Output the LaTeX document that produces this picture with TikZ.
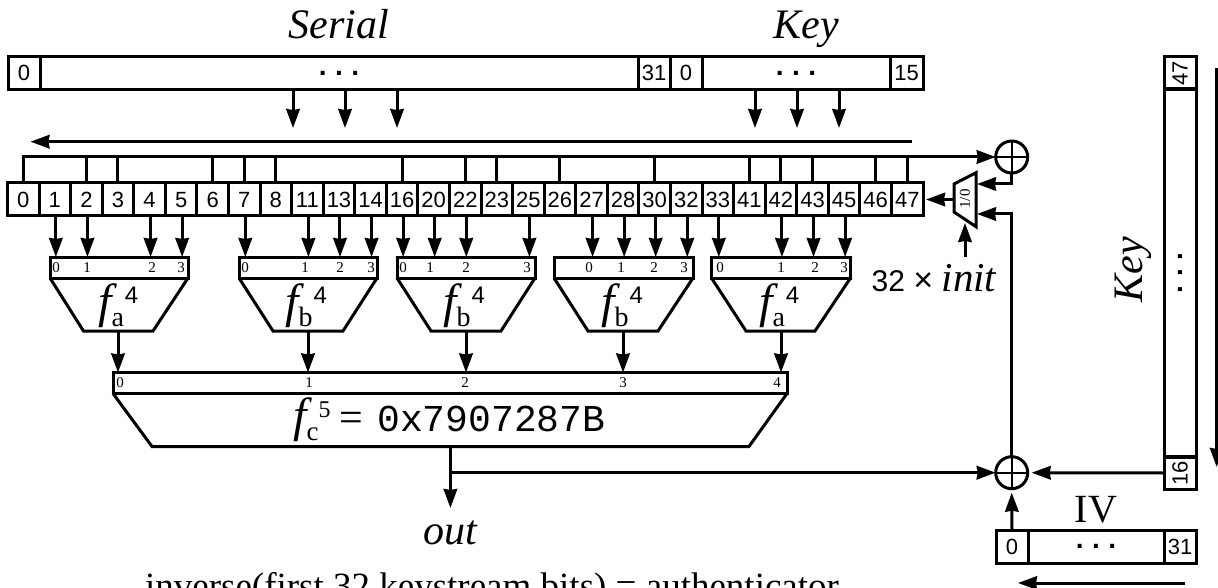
\documentclass[tikz,border=0pt]{standalone}
\usepackage{fontspec}
\usepackage{graphicx}
\setmainfont{Liberation Serif}
\setsansfont{Liberation Sans}
\setmonofont{Liberation Mono}
\usetikzlibrary{arrows.meta}
\newcommand{\fs}[1]{\fontsize{#1}{#1}\selectfont}
\newcommand{\fnt}[2]{\hbox{{\fs{48}\itshape f}\kern0pt\raisebox{-9pt}{\fs{28}#1}\kern1pt\raisebox{14pt}{\fs{24}\sffamily #2}}}
\newcommand{\hdots}{\fs{28}\sffamily\bfseries .\kern8.5pt.\kern8.5pt.}
\tikzset{
  x=1pt,y=-1pt,
  wire/.style={line width=3pt},
  arr/.style={wire,-{Stealth[length=19pt,width=13.5pt,inset=1pt]}},
  regbox/.style={draw,line width=3pt,inner sep=0pt,outer sep=0pt,font=\fs{22}\sffamily,minimum height=33pt},
  numbox/.style={regbox,text height=15.8pt,text depth=0pt},
  cell/.style={numbox,minimum width=31.57pt},
  fbox/.style={draw,line width=3pt,inner sep=0pt,outer sep=0pt,minimum height=21pt},
  trap/.style={line width=3pt,line join=miter},
  tiny/.style={font=\fs{15},inner sep=0pt},
  head/.style={font=\fs{42}\itshape,inner sep=0pt},
  xorc/.style={circle,draw,line width=3pt,minimum size=32pt,inner sep=0pt,outer sep=0pt,
    path picture={\draw[line width=2.4pt] (path picture bounding box.north)--(path picture bounding box.south)
      (path picture bounding box.west)--(path picture bounding box.east);}}
}
\begin{document}
\begin{tikzpicture}
\useasboundingbox (0,0) rectangle (1218,588);
\clip (0,0) rectangle (1218,588);
% headings
\node[head,anchor=base] (lserial) at (339,39) {Serial};
\node[head,anchor=base] (lkey) at (806,39) {Key};
% top register
\node[numbox,minimum width=32pt] (s0) at (24,73) {0};
\node[regbox,minimum width=598pt] (sdots) at (339,73) {\hdots};
\node[numbox,minimum width=32pt] (s31) at (654,73) {31};
\node[numbox,minimum width=32pt] (t0) at (686,73) {0};
\node[regbox,minimum width=188pt] (tdots) at (796,73) {\hdots};
\node[numbox,minimum width=33pt] (t15) at (906.5,73) {15};
\foreach \n/\x in {a/293,b/345,c/397}{
  \coordinate (sa\n) at (\x,128);
  \draw[arr] (sdots.south -| sa\n) -- (sa\n);
}
\foreach \n/\x in {a/755,b/797,c/839}{
  \coordinate (ta\n) at (\x,128);
  \draw[arr] (tdots.south -| ta\n) -- (ta\n);
}
\coordinate (shR) at (912,141.7);
\coordinate (shL) at (30.5,141.7);
\draw[arr] (shR) -- (shL);
% state cells
\foreach \l [count=\k from 0] in {0,1,2,3,4,5,6,7,8,11,13,14,16,20,22,23,25,26,27,28,30,32,33,41,42,43,45,46,47}{
  \node[cell] (c\l) at ({7.5+31.57*(\k+.5)},199.5) {\l};
}
% xors
\node[xorc] (xa) at (1011.7,157) {};
\node[xorc] (xb) at (1011.7,472.7) {};
% feedback tap line
\draw[arr] (c0.north) |- (xa.west);
\foreach \l in {2,3,6,7,8,16,22,23,26,30,41,42,43,46,47}{
  \draw[wire] (c\l.north) -- (c\l.north |- xa.west);
}
% f boxes
\node[fbox,minimum width=138pt] (fa) at (119,267.5) {};
\node[fbox,minimum width=138pt] (fb) at (308,267.5) {};
\node[fbox,minimum width=138pt] (fc) at (466,267.5) {};
\node[fbox,minimum width=139pt] (fd) at (623.5,267.5) {};
\node[fbox,minimum width=139pt] (fe) at (781,267.5) {};
\foreach \b/\l/\r/\c/\o/\t in {fa/83.5/153/118/98/{\fnt{a}{4}},fb/273/343/308/285/{\fnt{b}{4}},fc/431/501/466/443/{\fnt{b}{4}},fd/588/658/623/601/{\fnt{b}{4}},fe/746/815/781/759/{\fnt{a}{4}}}{
  \coordinate (\b o) at (\c,331);
  \draw[trap] (\b.south west) -- (\l,331) -- (\r,331) -- (\b.south east);
  \node[inner sep=0pt,anchor=base west] (\b t) at (\o,317) {\t};
}
% inputs to f boxes
\foreach \l/\b in {1/fa,2/fa,4/fa,5/fa,7/fb,11/fb,13/fb,14/fb,16/fc,20/fc,22/fc,25/fc,27/fd,28/fd,30/fd,32/fd,33/fe,42/fe,43/fe,45/fe}{
  \draw[arr] ([xshift=1pt]c\l.south) -- ([xshift=1pt]c\l.south |- \b.north);
}
% f box pin numbers
\foreach \n/\x/\t in {pa/56/0,pb/87/1,pc/152/2,pd/181/3,pe/245/0,pf/305/1,pg/340/2,ph/371/3,pi/403/0,pj/430/1,pk/466/2,pl/527/3,pm/589/0,pn/621/1,po/654/2,pp/684/3,pq/720/0,pr/781/1,ps/815/2,pt/844/3}{
  \node[tiny] (\n) at (\x,268) {\t};
}
% big function
\node[fbox,minimum width=674pt] (big) at (450,383) {};
\draw[trap] (big.south west) -- (152,446.5) -- (749,446.5) -- (big.south east);
\coordinate (bigo) at (450.4,446.5);
\foreach \n/\x/\t in {qa/120/0,qb/309/1,qc/465/2,qd/623/3,qe/777/4}{
  \node[tiny] (\n) at (\x,383) {\t};
}
\node[inner sep=0pt,anchor=base west] (bigt) at (293,431) {\hbox{{\fs{48}\itshape f}\kern0pt\raisebox{-9pt}{\fs{27}c}\kern0pt\raisebox{14pt}{\fs{24}5}\kern9pt{\fs{42}=}\kern14pt{\fs{38}\ttfamily 0x7907287B}}};
\foreach \b in {fa,fb,fc,fd,fe}{
  \draw[arr] (\b o) -- (\b o |- big.north);
}
% output
\node[head,anchor=base] (out) at (450,544) {out};
\coordinate (outtip) at (450.4,508);
\draw[arr] (bigo) -- (outtip);
\coordinate (branch) at (450.4,472.7);
\draw[arr] (branch) -- (xb.west);
\node[font=\fs{37},anchor=base,inner sep=0pt] (inv) at (492,598) {inverse(first 32 keystream bits) = authenticator};
% mux
\coordinate (mxa) at (954,184);
\coordinate (mxb) at (976,172.7);
\coordinate (mxc) at (976,226.7);
\coordinate (mxd) at (954,212);
\draw[line width=3pt,line join=miter] (mxa) -- (mxb) -- (mxc) -- (mxd) -- cycle;
\node[tiny,rotate=90] (mux) at (965,199) {1/0};
\coordinate (mxl) at (954,199.5);
\coordinate (mxi) at (977,184);
\coordinate (mxj) at (977,214);
\draw[arr,shorten >=3pt] (mxl) -- (c47.east);
\draw[arr] (xa.south) |- (mxi);
\draw[arr] (xb.north) |- (mxj);
\node[inner sep=0pt,anchor=base] (init) at (934,291) {\sffamily\fs{30}32 {\fs{34}×} {\fs{41}\rmfamily\itshape init}};
\coordinate (mxu) at (965,223);
\coordinate (mxs) at (965,257);
\draw[arr] (mxs) -- (mxu);
% vertical key
\node[regbox,minimum width=32pt] (k47) at (1180,73) {\rotatebox{90}{47}};
\node[regbox,minimum width=32pt,minimum height=368pt] (kdots) at (1180,273) {\rotatebox{90}{\hdots}};
\node[regbox,minimum width=32pt] (k16) at (1180,473) {\rotatebox{90}{16}};
\node[head,rotate=90] (lkeyv) at (1133,270) {Key};
\draw[arr,shorten >=4pt] (k16.west) -- (xb.east);
\coordinate (vtop) at (1216.7,68);
\coordinate (vbot) at (1216.7,467);
\draw[arr] (vtop) -- (vbot);
% IV
\node[font=\fs{40},inner sep=0pt,anchor=base] (liv) at (1096,522.7) {IV};
\node[numbox,minimum width=32pt] (i0) at (1012,546.7) {0};
\node[regbox,minimum width=136pt] (idots) at (1096,546.7) {\hdots};
\node[numbox,minimum width=32pt] (i31) at (1180,546.7) {31};
\draw[arr,shorten >=4pt] (i0.north) -- (xb.south);
\coordinate (ivR) at (1185,583);
\coordinate (ivL) at (1018,583);
\draw[arr] (ivR) -- (ivL);
\end{tikzpicture}
\end{document}
